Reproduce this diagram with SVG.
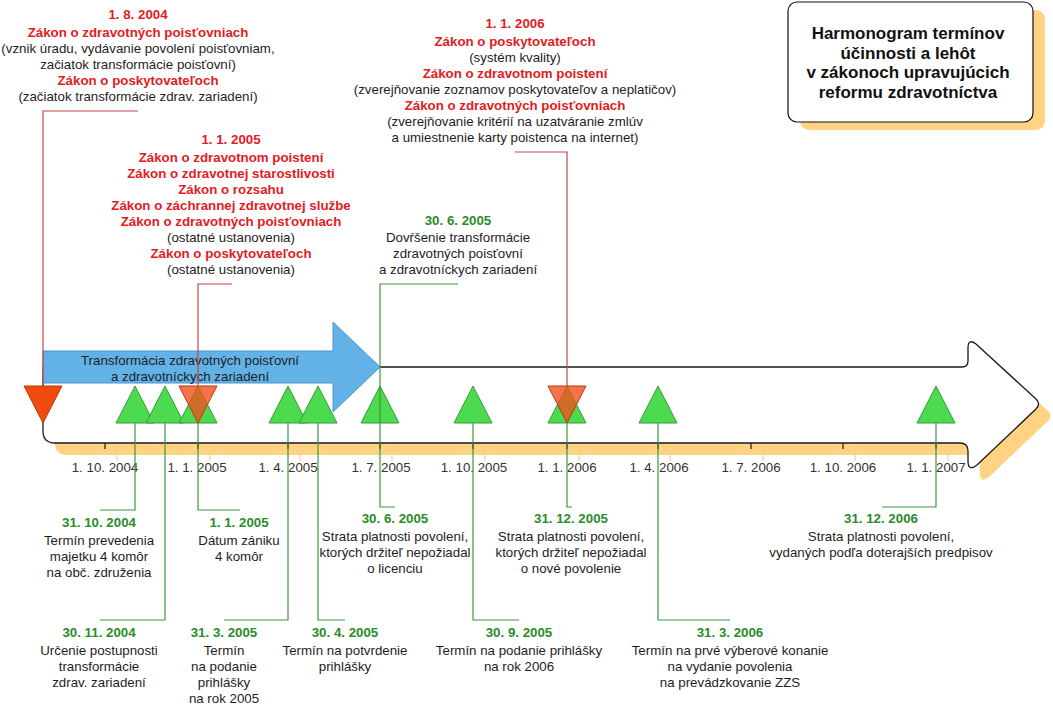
<svg xmlns="http://www.w3.org/2000/svg" width="1053" height="710" viewBox="0 0 1053 710">
<style>
text{font-family:"Liberation Sans",Arial,sans-serif;font-size:13.3px;text-anchor:middle;fill:#1e1e1e}
.r{fill:#E31B23;font-weight:bold}
.g{fill:#2A8C2A;font-weight:bold}
.ax{fill:#333}
.t{font-size:17px;font-weight:bold;fill:#111}
.up{fill:#4CDB50;stroke:#3A9A3A;stroke-width:1}
.dn{fill:#F0501E;fill-opacity:0.8;stroke:#B83A10;stroke-width:1}
.lr{fill:none;stroke:#C4474C;stroke-width:1.2}
.lg{fill:none;stroke:#3A9A3A;stroke-width:1.2}
.tk{stroke:#222;stroke-width:1.3}
.tks{stroke:#FFD08A;stroke-width:1.3}
</style>
<defs>
<path id="big" d="M 43 367 L 962 367 Q 968 367 968 361 L 968 348 Q 968 338 976 344 L 1036 399 Q 1041 404 1036 409 L 977 465 Q 968 472 968 461 L 968 451 Q 968 443 960 443 L 55 443 Q 43 443 43 431 Z"/>
</defs>

<g id="title-box">
<rect x="800" y="10" width="245" height="120" rx="9" fill="#FFD383"/>
<rect x="788" y="2" width="245" height="120" rx="9" fill="#fff" stroke="#111" stroke-width="1.2"/>
<text class="t" x="908" y="39">Harmonogram termínov</text>
<text class="t" x="908" y="58.5">účinnosti a lehôt</text>
<text class="t" x="908" y="78">v zákonoch upravujúcich</text>
<text class="t" x="908" y="97.5">reformu zdravotníctva</text>
</g>

<g id="timeline">
<use href="#big" transform="translate(12,12)" fill="#FFD383"/>
<g class="tks">
<line x1="117" y1="455" x2="117" y2="461"/><line x1="210" y1="455" x2="210" y2="461"/><line x1="300" y1="455" x2="300" y2="461"/><line x1="392" y1="455" x2="392" y2="461"/><line x1="485" y1="455" x2="485" y2="461"/><line x1="579" y1="455" x2="579" y2="461"/><line x1="670" y1="455" x2="670" y2="461"/><line x1="763" y1="455" x2="763" y2="461"/><line x1="855" y1="455" x2="855" y2="461"/><line x1="948" y1="455" x2="948" y2="461"/>
</g>
<use href="#big" fill="#fff" stroke="#1a1a1a" stroke-width="1.3"/>
<g class="tk">
<line x1="105" y1="443" x2="105" y2="449"/><line x1="198" y1="443" x2="198" y2="449"/><line x1="288" y1="443" x2="288" y2="449"/><line x1="380" y1="443" x2="380" y2="449"/><line x1="473" y1="443" x2="473" y2="449"/><line x1="567" y1="443" x2="567" y2="449"/><line x1="658" y1="443" x2="658" y2="449"/><line x1="751" y1="443" x2="751" y2="449"/><line x1="843" y1="443" x2="843" y2="449"/><line x1="936" y1="443" x2="936" y2="449"/>
</g>
<text class="ax" x="105" y="472">1. 10. 2004</text>
<text class="ax" x="197" y="472">1. 1. 2005</text>
<text class="ax" x="288" y="472">1. 4. 2005</text>
<text class="ax" x="381" y="472">1. 7. 2005</text>
<text class="ax" x="474" y="472">1. 10. 2005</text>
<text class="ax" x="567" y="472">1. 1. 2006</text>
<text class="ax" x="659" y="472">1. 4. 2006</text>
<text class="ax" x="751" y="472">1. 7. 2006</text>
<text class="ax" x="843" y="472">1. 10. 2006</text>
<text class="ax" x="936" y="472">1. 1. 2007</text>
</g>

<g id="transformation-arrow">
<path d="M 43 351 L 333 351 L 333 322 L 380 367 L 333 412 L 333 383 L 43 383 Z" fill="#62B2E8" stroke="#4A96CC" stroke-width="1"/>
<text x="190" y="365">Transformácia zdravotných poisťovní</text>
<text x="190" y="381">a zdravotníckych zariadení</text>
</g>

<g id="markers">
<polygon class="up" points="135,386 116,423 154,423"/>
<polygon class="up" points="165,386 146,423 184,423"/>
<polygon class="up" points="198,386 179,423 217,423"/>
<polygon class="up" points="288,386 269,423 307,423"/>
<polygon class="up" points="318,386 299,423 337,423"/>
<polygon class="up" points="380,386 361,423 399,423"/>
<polygon class="up" points="473,386 454,423 492,423"/>
<polygon class="up" points="567,386 548,423 586,423"/>
<polygon class="up" points="658,386 639,423 677,423"/>
<polygon class="up" points="936,386 917,423 955,423"/>
<polygon points="24,386 62,386 43,423" fill="#F24A0C" stroke="#B83A10" stroke-width="1"/>
<polygon class="dn" points="179,386 217,386 198,423"/>
<polygon class="dn" points="548,386 586,386 567,423"/>
</g>

<g id="connectors">
<polyline class="lr" points="138,111 43,111 43,386"/>
<polyline class="lr" points="232,284 198,284 198,386"/>
<polyline class="lr" points="515,152 567,152 567,386"/>
<polyline class="lg" points="458,284 380,284 380,507 395,507"/>
<polyline class="lg" points="135,423 135,510 100,510"/>
<polyline class="lg" points="165,423 165,620 100,620"/>
<polyline class="lg" points="198,423 198,510 240,510"/>
<polyline class="lg" points="288,423 288,620 224,620"/>
<polyline class="lg" points="318,423 318,620 345,620"/>
<polyline class="lg" points="473,423 473,620 519,620"/>
<polyline class="lg" points="567,423 567,507 572,507"/>
<polyline class="lg" points="658,423 658,620 730,620"/>
<polyline class="lg" points="936,423 936,507 882,507"/>
</g>

<g id="law-2004-08-01">
<text class="r" x="138" y="18.5">1. 8. 2004</text>
<text class="r" x="138" y="36.5">Zákon o zdravotných poisťovniach</text>
<text x="138" y="52.5">(vznik úradu, vydávanie povolení poisťovniam,</text>
<text x="138" y="68.5">začiatok transformácie poisťovní)</text>
<text class="r" x="138" y="84.5">Zákon o poskytovateľoch</text>
<text x="138" y="100.5">(začiatok transformácie zdrav. zariadení)</text>
</g>

<g id="law-2006-01-01">
<text class="r" x="515" y="28">1. 1. 2006</text>
<text class="r" x="515" y="46">Zákon o poskytovateľoch</text>
<text x="515" y="62">(systém kvality)</text>
<text class="r" x="515" y="78">Zákon o zdravotnom poistení</text>
<text x="515" y="94">(zverejňovanie zoznamov poskytovateľov a neplatičov)</text>
<text class="r" x="515" y="110">Zákon o zdravotných poisťovniach</text>
<text x="515" y="126">(zverejňovanie kritérií na uzatváranie zmlúv</text>
<text x="515" y="142">a umiestnenie karty poistenca na internet)</text>
</g>

<g id="law-2005-01-01">
<text class="r" x="231" y="144">1. 1. 2005</text>
<text class="r" x="231" y="162">Zákon o zdravotnom poistení</text>
<text class="r" x="231" y="178">Zákon o zdravotnej starostlivosti</text>
<text class="r" x="231" y="194">Zákon o rozsahu</text>
<text class="r" x="231" y="210">Zákon o záchrannej zdravotnej službe</text>
<text class="r" x="231" y="226">Zákon o zdravotných poisťovniach</text>
<text x="231" y="242">(ostatné ustanovenia)</text>
<text class="r" x="231" y="258">Zákon o poskytovateľoch</text>
<text x="231" y="274">(ostatné ustanovenia)</text>
</g>

<g id="event-2005-06-30-top">
<text class="g" x="458" y="225">30. 6. 2005</text>
<text x="458" y="242">Dovŕšenie transformácie</text>
<text x="458" y="258">zdravotných poisťovní</text>
<text x="458" y="274">a zdravotníckych zariadení</text>
</g>

<g id="event-2004-10-31">
<text class="g" x="99" y="527">31. 10. 2004</text>
<text x="99" y="545">Termín prevedenia</text>
<text x="99" y="561">majetku 4 komôr</text>
<text x="99" y="577">na obč. združenia</text>
</g>

<g id="event-2005-01-01">
<text class="g" x="239" y="527">1. 1. 2005</text>
<text x="239" y="545">Dátum zániku</text>
<text x="239" y="561">4 komôr</text>
</g>

<g id="event-2005-06-30">
<text class="g" x="395" y="523">30. 6. 2005</text>
<text x="395" y="541">Strata platnosti povolení,</text>
<text x="395" y="557">ktorých držiteľ nepožiadal</text>
<text x="395" y="573">o licenciu</text>
</g>

<g id="event-2005-12-31">
<text class="g" x="571" y="523">31. 12. 2005</text>
<text x="571" y="541">Strata platnosti povolení,</text>
<text x="571" y="557">ktorých držiteľ nepožiadal</text>
<text x="571" y="573">o nové povolenie</text>
</g>

<g id="event-2006-12-31">
<text class="g" x="881" y="523">31. 12. 2006</text>
<text x="881" y="541">Strata platnosti povolení,</text>
<text x="881" y="557">vydaných podľa doterajších predpisov</text>
</g>

<g id="event-2004-11-30">
<text class="g" x="99" y="637">30. 11. 2004</text>
<text x="99" y="655">Určenie postupnosti</text>
<text x="99" y="671">transformácie</text>
<text x="99" y="687">zdrav. zariadení</text>
</g>

<g id="event-2005-03-31">
<text class="g" x="224" y="637">31. 3. 2005</text>
<text x="224" y="655">Termín</text>
<text x="224" y="671">na podanie</text>
<text x="224" y="687">prihlášky</text>
<text x="224" y="703">na rok 2005</text>
</g>

<g id="event-2005-04-30">
<text class="g" x="345" y="637">30. 4. 2005</text>
<text x="345" y="655">Termín na potvrdenie</text>
<text x="345" y="671">prihlášky</text>
</g>

<g id="event-2005-09-30">
<text class="g" x="519" y="637">30. 9. 2005</text>
<text x="519" y="655">Termín na podanie prihlášky</text>
<text x="519" y="671">na rok 2006</text>
</g>

<g id="event-2006-03-31">
<text class="g" x="730" y="637">31. 3. 2006</text>
<text x="730" y="655">Termín na prvé výberové konanie</text>
<text x="730" y="671">na vydanie povolenia</text>
<text x="730" y="687">na prevádzkovanie ZZS</text>
</g>
</svg>
